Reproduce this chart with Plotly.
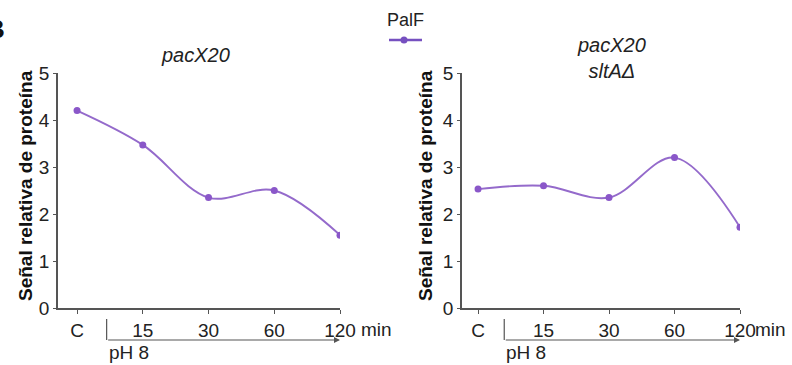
import plotly.graph_objects as go

categories = ["C", "15", "30", "60", "120"]
pacx20 = [4.2, 3.47, 2.35, 2.5, 1.55]
pacx20_slta = [2.53, 2.6, 2.35, 3.2, 1.72]
y_ticks = [0, 1, 2, 3, 4, 5]
series_name = "PalF"

W, H = 792, 365
COLOR = "#946ACB"
MCOLOR = "#8A57C9"
AXC = "#555555"
FONT = "Liberation Sans, Arial, sans-serif"

def px(x):
    return x / W

def py(y):
    return 1 - y / H

fig = go.Figure()
for vals, xa, ya in ((pacx20, "x", "y"), (pacx20_slta, "x2", "y2")):
    fig.add_trace(go.Scatter(x=list(range(len(categories))), y=vals, mode="lines+markers",
                             line=dict(color=COLOR, width=1.9, shape="spline", smoothing=1.0),
                             marker=dict(size=7, color=MCOLOR), xaxis=xa, yaxis=ya, showlegend=False))

xcommon = dict(tickvals=list(range(len(categories))), ticktext=categories, showgrid=False, zeroline=False,
               showline=True, linecolor=AXC, linewidth=1.5, ticks="outside", ticklen=4, tickcolor=AXC,
               tickfont=dict(family=FONT, size=19, color="#222"), fixedrange=True, automargin=False)
ycommon = dict(range=[0, 5], tickvals=y_ticks, showgrid=False, zeroline=False,
               showline=True, linecolor=AXC, linewidth=1.5, ticks="outside", ticklen=3, tickcolor=AXC,
               tickfont=dict(family=FONT, size=19, color="#222"), fixedrange=True, automargin=False)

ydom = [py(308), py(73)]
fig.update_layout(
    width=W, height=H, margin=dict(l=0, r=0, t=0, b=0, autoexpand=False),
    paper_bgcolor="white", plot_bgcolor="white",
    xaxis=dict(domain=[px(58), px(340)], range=[-0.29, 4.0], anchor="y", **xcommon),
    yaxis=dict(domain=ydom, anchor="x", **ycommon),
    xaxis2=dict(domain=[px(462), px(740)], range=[-0.245, 4.0], anchor="y2", **xcommon),
    yaxis2=dict(domain=ydom, anchor="x2", **ycommon),
)

ann = []
shapes = []
C = dict(xanchor="center", yanchor="middle", showarrow=False)
# panel titles
ann.append(dict(text="<i>pacX20</i>", x=px(195), y=py(55), xref="paper", yref="paper",
                font=dict(family=FONT, size=20, color="#222"), **C))
ann.append(dict(text="<i>pacX20</i><br><i>sltAΔ</i>", x=px(611), y=py(58), xref="paper", yref="paper",
                font=dict(family=FONT, size=20, color="#222"), **C))
# y titles
for xc in (25, 425):
    ann.append(dict(text="<b>Señal relativa de proteína</b>", x=px(xc), y=py(186), xref="paper",
                    yref="paper", textangle=-90, font=dict(family=FONT, size=19, color="#111"), **C))
# min labels
for xa, shift in (("x", 19), ("x2", 13)):
    ann.append(dict(text="min", x=4, y=py(329), xref=xa, yref="paper", xanchor="left", yanchor="middle",
                    xshift=shift, showarrow=False, font=dict(family=FONT, size=19, color="#222")))
# pH arrows
for xa, start in (("x", 0.45), ("x2", 0.4)):
    shapes.append(dict(type="line", xref=xa, yref="paper", x0=start, x1=start, y0=py(319), y1=py(340),
                       line=dict(color=AXC, width=1.2)))
    ann.append(dict(x=4.0, y=py(340), xref=xa, yref="paper", ax=start, ay=0, axref=xa, ayref="pixel",
                    showarrow=True, arrowhead=2, arrowsize=1, arrowwidth=1.2, arrowcolor=AXC, text=""))
    ann.append(dict(text="pH 8", x=start, y=py(352), xref=xa, yref="paper", xanchor="left",
                    yanchor="middle", xshift=0, showarrow=False,
                    font=dict(family=FONT, size=19, color="#222")))
# legend
ann.append(dict(text=series_name, x=px(405), y=py(20), xref="paper", yref="paper",
                font=dict(family=FONT, size=18, color="#222"), **C))
shapes.append(dict(type="line", xref="paper", yref="paper", x0=px(389), x1=px(422), y0=py(40), y1=py(40),
                   line=dict(color="#7650C0", width=2.5)))
shapes.append(dict(type="circle", xref="paper", yref="paper", x0=px(400.5), x1=px(407.5),
                   y0=py(43.5), y1=py(36.5), fillcolor="#7650C0", line=dict(color="#7650C0", width=0)))
# cut-off panel letter
ann.append(dict(text="<b>B</b>", x=px(7), y=py(29), xref="paper", yref="paper", xanchor="right",
                yanchor="middle", showarrow=False, font=dict(family=FONT, size=26, color="#111")))

fig.update_layout(annotations=ann, shapes=shapes)
fig.write_html("out.html")
